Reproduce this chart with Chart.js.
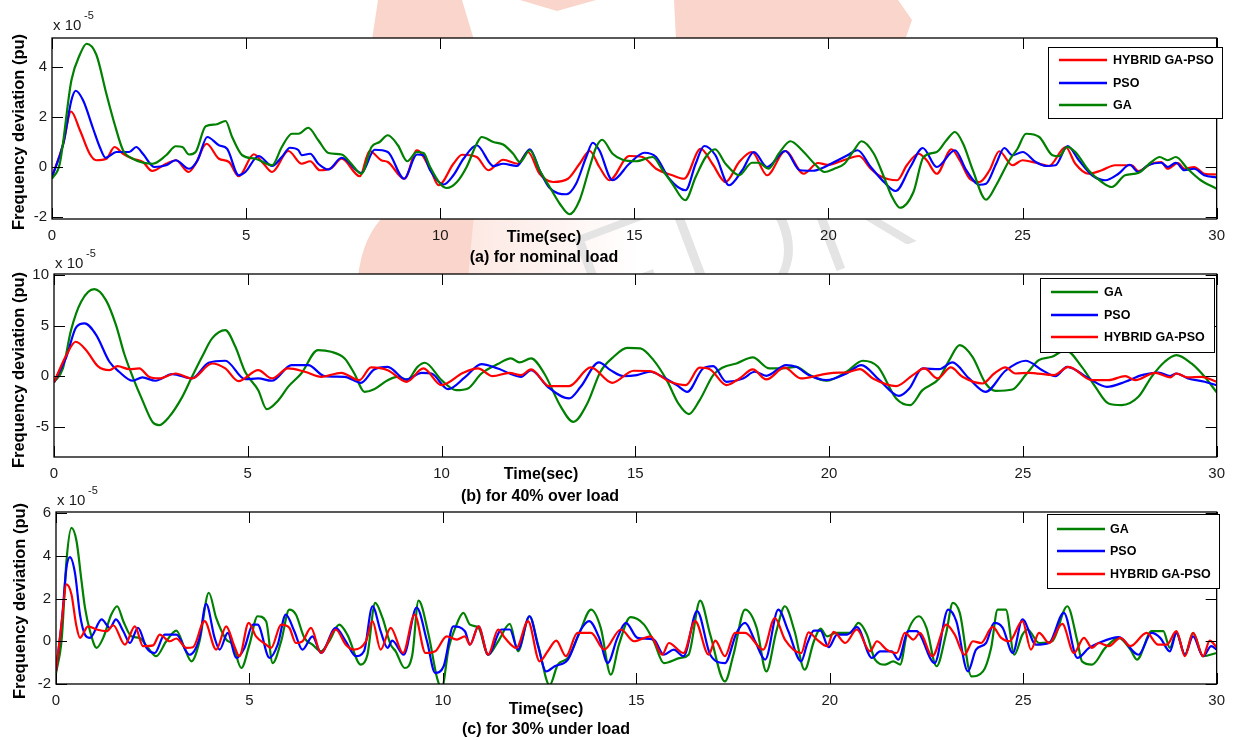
<!DOCTYPE html>
<html><head><meta charset="utf-8">
<script src="https://cdn.jsdelivr.net/npm/chart.js@4.4.1/dist/chart.umd.min.js"></script>
<style>
html,body{margin:0;padding:0;background:#fff;overflow:hidden}
#wrap{position:relative;width:1233px;height:740px}
#wrap canvas{position:absolute;left:0;top:0}
</style></head><body>
<div id="wrap">
<canvas id="bg" width="1233" height="740"></canvas>
<canvas id="c1" width="1233" height="740"></canvas>
<canvas id="c2" width="1233" height="740"></canvas>
<canvas id="c3" width="1233" height="740"></canvas>
</div>
<script>
// ---------- DATA (time in s, frequency deviation in units of 1e-5 pu) ----------
const xTicks = [0,5,10,15,20,25,30];
const yTicks1 = [-2,0,2,4];
const yTicks2 = [-5,0,5,10];
const yTicks3 = [-2,0,2,4,6];
const yRange1 = [-2.08,5.16];
const yRange2 = [-8,10.1];
const yRange3 = [-2,6.05];
const seriesNames1 = ['HYBRID GA-PSO','PSO','GA'];
const seriesNames2 = ['GA','PSO','HYBRID GA-PSO'];
const seriesNames3 = ['GA','PSO','HYBRID GA-PSO'];
const captions = ['(a) for nominal load','(b) for 40% over load','(c) for 30% under load'];
const xTitle = 'Time(sec)';
const yTitle = 'Frequency deviation (pu)';

// Panel (a) nominal load
const a_GA = [[0,-0.47],[0.2,0.13],[0.5,3.47],[0.72,4.5],[0.89,4.93],[1.14,4.5],[1.4,2.93],[1.61,1.73],[1.83,0.67],[2.08,0.33],[2.59,0.13],[2.94,0.47],[3.19,0.83],[3.36,0.8],[3.53,0.5],[3.7,0.6],[3.96,1.63],[4.22,1.7],[4.47,1.84],[4.64,1.2],[4.9,0.47],[5.24,0.33],[5.67,0.07],[5.92,0.8],[6.18,1.33],[6.35,1.33],[6.6,1.57],[6.86,1.07],[7.12,0.56],[7.46,0.5],[7.71,0.13],[7.97,-0.27],[8.23,0.8],[8.44,1.0],[8.65,1.27],[8.91,0.87],[9.15,0.23],[9.4,0.6],[9.57,0.56],[9.74,0],[10,-0.67],[10.17,-0.84],[10.43,-0.6],[10.68,0],[10.94,0.93],[11.07,1.2],[11.37,1.0],[11.62,0.9],[11.88,0.53],[12.05,0.2],[12.31,0.67],[12.56,-0.13],[12.82,-0.8],[13.08,-1.47],[13.33,-1.89],[13.59,-1.33],[13.85,0],[14.02,0.8],[14.17,1.09],[14.44,0.53],[14.7,0.29],[15.04,0.23],[15.47,0.4],[15.73,-0.13],[15.98,-0.67],[16.31,-1.33],[16.58,-0.4],[16.84,0.4],[17.08,0.71],[17.35,0.13],[17.7,-0.33],[18.03,0.17],[18.2,0.17],[18.46,-0.07],[18.72,0.53],[19.02,1.03],[19.32,0.67],[19.64,0.13],[19.9,-0.2],[20.15,-0.07],[20.41,0.13],[20.66,0.67],[20.85,1.03],[21.17,0.53],[21.43,-0.4],[21.64,-1.2],[21.84,-1.63],[22.19,-1.0],[22.45,0.4],[22.79,0.6],[23.04,1.07],[23.26,1.4],[23.47,0.93],[23.72,-0.13],[24.06,-1.31],[24.32,-0.73],[24.66,0.27],[24.87,0.73],[25.09,1.33],[25.43,1.2],[25.77,0.47],[25.94,0.43],[26.15,0.8],[26.36,0.6],[26.7,-0.13],[27.04,-0.6],[27.3,-0.8],[27.64,-0.33],[27.98,-0.24],[28.32,0.2],[28.53,0.4],[28.74,0.27],[28.95,0.4],[29.25,-0.07],[29.59,-0.53],[30,-0.87]];
const a_PSO = [[0,-0.4],[0.29,0.93],[0.5,2.67],[0.61,3.05],[0.8,2.67],[1.06,1.53],[1.23,0.8],[1.38,0.37],[1.66,0.6],[1.99,0.6],[2.17,0.8],[2.34,0.53],[2.64,0],[2.94,0.07],[3.19,0.27],[3.53,-0.07],[3.75,0.27],[4.0,1.2],[4.3,0.87],[4.51,0.73],[4.81,-0.33],[4.98,-0.2],[5.32,0.44],[5.67,0.04],[5.92,0.4],[6.13,0.77],[6.35,0.67],[6.43,0.47],[6.65,0.53],[6.86,0.13],[7.12,-0.1],[7.46,0.37],[7.97,-0.24],[8.31,0.69],[8.65,0.6],[9.07,-0.47],[9.4,0.5],[9.57,0.47],[9.74,-0.13],[10.09,-0.7],[10.34,-0.33],[10.6,0.33],[10.94,0.87],[11.37,0.04],[11.62,0.13],[11.97,0.04],[12.31,0.71],[12.56,-0.13],[12.82,-0.84],[13.25,-1.09],[13.5,-0.67],[13.76,0.4],[13.93,0.97],[14.1,0.67],[14.44,-0.53],[14.87,0.13],[15.26,0.57],[15.56,0.4],[15.9,-0.47],[16.32,-0.93],[16.58,0.13],[16.8,0.84],[17.09,0.47],[17.44,-0.73],[17.78,-0.13],[18.08,0.6],[18.42,0],[18.89,0.64],[19.27,-0.13],[19.6,-0.15],[19.9,0],[20.15,0.2],[20.49,0.47],[20.75,0.67],[21.09,0],[21.43,-0.6],[21.73,-0.96],[22.11,0],[22.43,0.76],[22.79,0],[23.26,0.67],[23.55,-0.13],[23.89,-0.71],[24.06,-0.67],[24.32,0.13],[24.53,0.76],[24.74,0.47],[25.0,0.6],[25.34,0.2],[25.6,0.04],[25.85,0.07],[26.16,0.84],[26.45,0.27],[26.79,-0.33],[27.13,-0.53],[27.47,-0.27],[27.76,0.09],[27.98,-0.2],[28.23,0.07],[28.57,0.17],[28.74,0],[28.95,0.17],[29.17,-0.13],[29.42,-0.07],[29.68,-0.33],[30,-0.42]];
const a_HY = [[0,-0.4],[0.29,0.93],[0.49,2.22],[0.72,1.47],[0.97,0.53],[1.14,0.27],[1.4,0.33],[1.61,0.8],[1.83,0.53],[2.08,0.33],[2.34,0.2],[2.58,-0.16],[2.94,0.13],[3.19,0.27],[3.52,-0.2],[3.7,0.13],[3.98,0.93],[4.3,0.33],[4.56,0.2],[4.81,-0.37],[5.2,0.51],[5.45,0.13],[5.67,-0.2],[6.09,0.64],[6.43,0.13],[6.65,0.23],[6.9,-0.13],[7.2,-0.04],[7.46,0.33],[7.93,-0.37],[8.18,0.64],[8.48,0.27],[8.65,0.2],[9.08,-0.47],[9.4,0.67],[9.74,-0.07],[9.96,-0.73],[10.34,0.13],[10.56,0.49],[10.94,0.4],[11.24,-0.13],[11.62,0.29],[12.0,0.13],[12.26,0.6],[12.56,-0.27],[12.91,-0.6],[13.29,-0.47],[13.59,0.13],[13.85,0.64],[14.1,0],[14.36,-0.53],[14.87,0.44],[15.21,0.4],[15.56,-0.07],[15.98,-0.33],[16.28,-0.47],[16.71,0.73],[17.01,0.13],[17.35,-0.6],[17.7,0.2],[18.03,0.6],[18.42,-0.33],[18.89,0.64],[19.36,-0.27],[19.73,0.16],[19.98,0.09],[20.32,0.23],[20.79,0.44],[21.09,-0.07],[21.34,-0.37],[21.77,-0.53],[22.02,0.07],[22.32,0.53],[22.53,0.27],[22.79,-0.27],[23.17,0.71],[23.38,0.27],[23.64,-0.47],[23.89,-0.6],[24.15,-0.13],[24.4,0.63],[24.74,0.07],[25.0,0.27],[25.34,0.17],[25.68,0.04],[26.11,0.8],[26.36,0.13],[26.7,-0.27],[27.04,-0.13],[27.38,0.07],[27.81,0.07],[27.98,-0.16],[28.32,0.13],[28.57,0.2],[28.74,-0.07],[29.0,0.16],[29.17,-0.07],[29.42,0],[29.68,-0.27],[30,-0.3]];

// Panel (b) 40% over load
const b_GA = [[0,-0.6],[0.23,0.76],[0.44,4.55],[0.7,7.36],[1.04,8.6],[1.34,7.52],[1.6,5.05],[1.81,2.24],[2.03,-0.07],[2.28,-2.38],[2.54,-4.52],[2.71,-4.85],[2.97,-4.03],[3.31,-2.05],[3.56,-0.07],[3.82,1.91],[4.08,3.73],[4.42,4.55],[4.68,2.9],[4.93,0.43],[5.27,-1.39],[5.49,-3.27],[5.79,-2.38],[6.04,-1.06],[6.38,0.26],[6.81,2.57],[7.15,2.41],[7.5,1.75],[7.75,0.26],[8.01,-1.55],[8.26,-1.29],[8.61,-0.4],[8.86,-0.07],[9.12,-0.35],[9.38,0.92],[9.57,1.32],[10,-0.4],[10.38,-1.39],[10.68,-1.22],[11.03,0.26],[11.45,1.19],[11.79,1.75],[12.01,1.35],[12.31,1.75],[12.65,0.26],[13.08,-3.04],[13.4,-4.52],[13.76,-2.71],[14.1,0.43],[14.44,1.91],[14.79,2.8],[15.13,2.74],[15.47,1.58],[15.81,-0.4],[16.11,-2.71],[16.38,-3.76],[16.66,-2.38],[17.01,0.1],[17.26,0.86],[17.61,1.25],[18.03,1.85],[18.46,0.76],[18.8,0.76],[19.15,0.92],[19.5,0.1],[19.93,-0.46],[20.45,0.43],[20.87,1.52],[21.26,0.92],[21.73,-2.21],[22.09,-2.87],[22.41,-1.39],[22.84,-0.23],[23.1,1.58],[23.37,3.07],[23.7,1.91],[24.04,-0.73],[24.3,-1.45],[24.73,-1.32],[25.07,0.1],[25.41,1.58],[25.75,1.91],[26.1,2.57],[26.52,0.92],[26.87,-1.06],[27.21,-2.71],[27.55,-2.87],[27.98,-2.05],[28.32,-0.07],[28.66,1.42],[28.96,2.08],[29.35,1.25],[29.69,-0.07],[30,-1.6]];
const b_PSO = [[0,-0.6],[0.32,1.91],[0.57,4.82],[0.79,5.21],[1.09,4.06],[1.43,1.42],[1.68,0.43],[2.03,-0.46],[2.28,-0.13],[2.62,-0.46],[3.05,0.2],[3.56,-0.23],[3.99,1.32],[4.42,1.52],[4.93,-0.3],[5.27,-0.23],[5.62,-0.46],[6.13,1.09],[6.56,1.09],[6.98,0],[7.5,-0.07],[7.92,-0.66],[8.26,0.66],[8.61,0.92],[9.08,-0.35],[9.49,0.33],[9.74,0.26],[10.17,-1.29],[10.6,-0.13],[11.03,1.19],[11.45,0.76],[12.05,-0.07],[12.31,0.59],[12.74,-1.06],[13.29,-2.21],[13.59,-1.06],[14.06,1.35],[14.36,0.59],[14.7,0],[15.04,0.1],[15.38,0.43],[15.73,-0.13],[16.07,-0.89],[16.34,-1.55],[16.75,0.76],[17.01,0.99],[17.35,-0.56],[17.78,-0.23],[18.08,0.43],[18.38,0.03],[18.89,1.09],[19.15,0.92],[19.5,0.05],[19.93,-0.4],[20.45,0.26],[20.83,1.09],[21.3,-0.4],[21.8,-1.95],[22.07,-1.22],[22.41,0.76],[22.84,0.69],[23.18,1.35],[23.61,-0.23],[24.04,-1.55],[24.55,0.53],[25.07,1.52],[25.5,0.59],[25.84,0],[26.14,0.92],[26.7,-0.23],[27.17,-1.06],[27.64,-0.56],[28.07,0.1],[28.5,0.36],[28.8,0],[28.96,0.26],[29.26,-0.23],[29.69,-0.56],[30,-0.9]];
const b_HY = [[0,-0.6],[0.32,2.08],[0.56,3.4],[0.83,2.57],[1.13,0.99],[1.43,0.59],[1.64,0.99],[1.94,0.69],[2.2,0.76],[2.45,-0.07],[2.71,-0.23],[3.14,0.26],[3.56,-0.23],[4.08,1.25],[4.42,0.76],[4.76,-0.5],[5.27,0.59],[5.62,-0.23],[6.04,0.76],[6.47,0.43],[6.9,-0.07],[7.41,0.33],[7.88,-0.4],[8.18,0.86],[8.61,0.59],[9.1,-0.56],[9.53,0.76],[10,-0.89],[10.56,0.33],[10.94,0.76],[11.32,0],[11.75,0.33],[12.05,0.1],[12.31,0.66],[12.78,-0.99],[13.29,-0.99],[13.85,0.86],[14.4,-0.66],[14.96,0.53],[15.38,0.5],[15.9,-0.56],[16.3,-0.89],[16.66,0.83],[16.92,0.69],[17.35,-0.89],[17.69,-0.23],[18.03,0.66],[18.38,-0.33],[18.85,0.83],[19.27,-0.23],[19.76,0.1],[20.1,0.33],[20.45,0.36],[20.79,0.69],[21.13,-0.23],[21.73,-0.99],[22.16,0.1],[22.46,0.76],[22.8,-0.23],[23.14,0.86],[23.44,-0.07],[23.96,-0.73],[24.26,0.26],[24.55,0.86],[24.81,0.26],[25.15,0.33],[25.8,0.1],[26.18,0.92],[26.78,-0.4],[27.21,-0.4],[27.64,0],[27.9,-0.4],[28.41,0.33],[28.8,-0.13],[28.96,0.26],[29.26,-0.13],[29.61,-0.07],[30,-0.56]];

// Panel (c) 30% under load
const c_GA = [[0,-1.5],[0.15,0.16],[0.27,3.75],[0.4,5.31],[0.53,4.69],[0.66,2.81],[0.75,1.56],[0.88,0.47],[1.05,-0.31],[1.22,0.16],[1.43,1.25],[1.58,1.64],[1.74,0.94],[1.95,0.23],[2.16,0.16],[2.38,-0.31],[2.59,-0.7],[2.85,0],[3.11,0.5],[3.32,-0.31],[3.5,-0.94],[3.71,0],[3.95,2.27],[4.14,1.09],[4.4,0.08],[4.57,-0.16],[4.79,-1.25],[5.0,-0.16],[5.21,1.17],[5.43,0.94],[5.6,-1.02],[5.82,0],[6.03,1.48],[6.2,1.25],[6.42,0.16],[6.63,-0.16],[6.85,-0.47],[7.06,0],[7.32,0.78],[7.53,0.31],[7.88,-1.09],[8.05,-0.63],[8.25,1.8],[8.44,1.09],[8.65,-0.16],[8.78,-0.47],[9.01,-1.25],[9.21,-0.63],[9.37,1.9],[9.63,0.31],[9.85,-1.72],[9.97,-2.2],[10.15,-0.31],[10.32,0.63],[10.53,1.33],[10.7,0.78],[10.92,0.63],[11.17,-0.63],[11.43,0],[11.73,0.81],[11.94,-0.47],[12.24,1.17],[12.46,-0.16],[12.76,-2.05],[12.97,-1.09],[13.23,-0.78],[13.53,0.39],[13.83,1.48],[14.08,0.63],[14.34,-1.56],[14.55,-0.16],[14.85,1.13],[15.2,0.78],[15.45,0],[15.71,-1.02],[16.14,-0.78],[16.35,-0.63],[16.65,1.9],[16.91,0.31],[17.29,-1.88],[17.51,-0.63],[17.81,1.48],[18.11,0.63],[18.36,-1.41],[18.62,0.47],[18.84,1.64],[19.09,0.47],[19.35,-1.33],[19.59,0],[19.76,0.59],[19.93,0.23],[20.15,0.39],[20.53,0.39],[20.74,0.86],[20.96,0.31],[21.17,-0.86],[21.43,-1.09],[21.64,-0.94],[21.82,-1.09],[21.99,0.31],[22.31,1.17],[22.5,0.63],[22.76,-1.17],[23.01,0.39],[23.18,1.8],[23.36,1.33],[23.66,-1.64],[23.96,-1.41],[24.17,-0.31],[24.34,1.48],[24.55,1.48],[24.77,-0.63],[24.98,0.31],[25.11,0.55],[25.41,-0.08],[25.75,0],[26.14,1.64],[26.4,0],[26.52,-0.94],[26.78,-1.09],[27.12,-0.31],[27.47,0.16],[27.77,-0.39],[27.94,-0.86],[28.32,0.47],[28.62,0.47],[28.79,-0.31],[28.96,0.39],[29.18,-0.63],[29.39,0.39],[29.65,-0.7],[30,-0.55]];
const c_PSO = [[0,-1.4],[0.15,0.94],[0.27,3.44],[0.36,3.94],[0.49,3.2],[0.62,1.25],[0.75,0.31],[0.88,0.16],[1.18,1.02],[1.39,0.63],[1.55,1.02],[1.74,0.47],[1.91,-0.08],[2.12,0.63],[2.34,-0.31],[2.55,-0.55],[2.81,0.31],[3.11,0.31],[3.45,-0.63],[3.71,0.16],[3.88,1.75],[4.1,0.16],[4.23,-0.39],[4.44,0.39],[4.66,-0.78],[4.87,-0.31],[5.09,0.78],[5.21,0.78],[5.52,-0.78],[5.73,-0.16],[5.94,1.25],[6.16,0.47],[6.37,-0.39],[6.63,0.23],[6.85,-0.55],[7.23,0.63],[7.49,0],[7.75,-0.7],[7.96,-0.47],[8.18,1.64],[8.39,0.47],[8.57,-0.31],[8.69,0.03],[8.99,-0.63],[9.32,1.58],[9.59,0],[9.8,-1.48],[10.02,-1.17],[10.27,0.7],[10.57,0.47],[10.7,-0.16],[10.92,0.7],[11.17,-0.63],[11.52,0.55],[11.73,0.55],[11.94,-0.39],[12.24,1.17],[12.46,-0.23],[12.67,-1.41],[12.89,-1.17],[13.23,-0.86],[13.57,0.55],[13.78,0.94],[14.04,0.16],[14.26,-1.02],[14.51,0.16],[14.73,0.86],[15.03,0.16],[15.45,0.08],[15.71,-0.63],[15.97,-0.39],[16.22,-0.7],[16.57,1.41],[16.91,-0.63],[17.29,-1.02],[17.59,0.39],[17.81,0.86],[18.07,0],[18.33,-0.86],[18.67,1.48],[18.93,0.47],[19.26,-0.94],[19.42,-0.1],[19.59,0.5],[19.76,0.5],[19.97,-0.28],[20.19,0.31],[20.45,0.31],[20.7,0.66],[21.09,-0.78],[21.3,-0.47],[21.6,-0.47],[21.77,-0.86],[22.03,0.47],[22.24,0.47],[22.71,-1.02],[23.06,1.48],[23.27,0.94],[23.57,-1.41],[23.78,-0.39],[24.04,-0.08],[24.25,0.86],[24.47,0.63],[24.73,-0.55],[24.98,1.02],[25.33,-0.16],[25.67,-0.08],[26.05,1.33],[26.4,-0.78],[26.7,-0.31],[26.95,-0.08],[27.47,0.19],[27.98,-0.63],[28.32,0.39],[28.54,0.16],[28.79,-0.47],[28.96,0.39],[29.18,-0.63],[29.39,0.23],[29.65,-0.7],[29.86,-0.23],[30,-0.39]];
const c_HY = [[0,-1.41],[0.15,0.94],[0.27,2.66],[0.4,2.19],[0.52,0.78],[0.62,0.16],[0.83,0.7],[1.05,0.55],[1.31,0.47],[1.48,0.75],[1.78,-0.16],[2.04,0.7],[2.25,-0.23],[2.51,-0.19],[2.68,0.31],[2.94,0],[3.11,0.13],[3.37,-0.31],[3.54,-0.28],[3.84,0.94],[4.14,-0.39],[4.4,0.7],[4.61,-0.23],[4.74,-0.7],[4.98,0.86],[5.17,0.23],[5.43,-0.16],[5.56,-0.31],[5.82,0.78],[6.03,0.63],[6.2,-0.08],[6.37,0],[6.59,0.63],[6.85,-0.55],[7.23,0.55],[7.49,-0.16],[7.71,-0.39],[8.01,0],[8.18,0.94],[8.39,-0.39],[8.65,0.63],[8.97,-0.55],[9.27,1.25],[9.55,-0.55],[9.8,-0.47],[10.1,0.23],[10.36,0.08],[10.57,0.23],[10.7,-0.16],[10.92,0.7],[11.17,-0.63],[11.43,0.55],[11.6,0.16],[11.9,-0.31],[12.2,0.94],[12.5,-0.94],[12.71,-0.47],[12.93,0.03],[13.18,-0.7],[13.48,0.39],[13.83,0.39],[14.17,-0.39],[14.6,0.55],[14.94,0],[15.37,0.23],[15.67,-0.63],[15.84,-0.08],[16.22,-0.55],[16.52,0.94],[16.87,-0.63],[17.04,0.03],[17.29,-0.7],[17.55,0.39],[17.81,0.39],[18.28,-0.39],[18.58,1.09],[18.84,0.08],[19.26,-0.55],[19.45,0.42],[19.67,0.08],[19.93,-0.23],[20.1,0.44],[20.4,-0.08],[20.7,0.55],[21.04,-0.47],[21.22,0],[21.47,-0.39],[21.73,-0.55],[21.94,0.39],[22.16,0.08],[22.33,0.39],[22.65,-0.7],[23.01,0.78],[23.23,0.31],[23.48,-0.63],[23.7,0],[23.91,-0.08],[24.21,0.67],[24.43,0.16],[24.64,0],[24.98,0.94],[25.2,-0.39],[25.41,0.39],[25.67,-0.08],[26.01,0.81],[26.31,-0.55],[26.57,0.16],[26.78,-0.31],[26.95,-0.08],[27.21,-0.23],[27.51,0.16],[27.77,-0.23],[28.19,0.39],[28.49,-0.16],[28.71,-0.16],[28.96,0.47],[29.18,-0.7],[29.39,0.39],[29.65,-0.7],[29.82,0.03],[30,-0.28]];

// ---------- STYLE / LAYOUT ----------
const FONT = '"Liberation Sans", Arial, Helvetica, sans-serif';
const COLORS = {'GA':'#008000','PSO':'#0000ff','HYBRID GA-PSO':'#ff0000'};
const TICKLEN = 11;
const LAYOUT = {
  c1:{L:52,R:1224,T:38,B:219, exp:[53,30], xl:[544,242], cap:[544,262], yl:[24,132],
      legend:{x:1048,y:47,w:174,h:71,l1:1059,l2:1107,tx:1113,rows:[60,83,105]}},
  c2:{L:54,R:1221,T:274,B:457, exp:[55,268], xl:[541,479], cap:[540,501], yl:[24,370],
      legend:{x:1040,y:278,w:174,h:74,l1:1051,l2:1098,tx:1104,rows:[292,315,337]}},
  c3:{L:56,R:1221,T:512,B:684, exp:[57,505], xl:[546,714], cap:[546,734], yl:[25,601],
      legend:{x:1047,y:514,w:172,h:74,l1:1057,l2:1105,tx:1110,rows:[529,551,574]}}
};

// ---------- WATERMARK (background decoration) ----------
(function(){
  const c = document.getElementById('bg').getContext('2d');
  c.fillStyle = '#fff'; c.fillRect(0,0,1233,740);
  c.fillStyle = 'rgb(250,213,203)';
  const poly = pts => { c.beginPath(); pts.forEach((p,i)=> i ? c.lineTo(p[0],p[1]) : c.moveTo(p[0],p[1])); c.closePath(); c.fill(); };
  poly([[378,0],[462,0],[474,40],[372,40]]);
  poly([[674,0],[898,0],[912,20],[905,40],[676,40]]);
  poly([[520,0],[596,0],[557,11]]);
  c.beginPath(); c.moveTo(386,214); c.lineTo(474,214); c.lineTo(468,278); c.lineTo(358,278);
  c.quadraticCurveTo(362,236,386,214); c.fill();
  const g = c.createLinearGradient(468,0,640,0);
  g.addColorStop(0,'rgba(250,213,203,0.55)'); g.addColorStop(1,'rgba(250,213,203,0)');
  c.fillStyle = g; c.fillRect(468,214,172,64);
  c.save(); c.fillStyle = 'rgb(228,228,228)'; c.translate(600,360); c.rotate(-0.36);
  c.font = '300 175px Lato, ' + FONT; c.fillText('EDR', 0, 0); c.restore();
})();

// ---------- CHARTS ----------
const framePlugin = {
  id: 'frame',
  beforeDraw(chart){
    const a = chart.chartArea, ctx = chart.ctx;
    ctx.save(); ctx.fillStyle = '#fff';
    ctx.fillRect(a.left, a.top, a.right - a.left, a.bottom - a.top); ctx.restore();
  },
  afterDraw(chart){
    const L = LAYOUT[chart.canvas.id], a = chart.chartArea, ctx = chart.ctx;
    const xs = chart.scales.x, ys = chart.scales.y;
    ctx.save();
    // inward ticks
    ctx.strokeStyle = '#000'; ctx.lineWidth = 1; ctx.beginPath();
    xs.ticks.forEach(t => { const p = Math.round(xs.getPixelForValue(t.value)) + 0.5;
      ctx.moveTo(p, a.bottom); ctx.lineTo(p, a.bottom - TICKLEN);
      ctx.moveTo(p, a.top); ctx.lineTo(p, a.top + TICKLEN); });
    ys.ticks.forEach(t => { const p = Math.round(ys.getPixelForValue(t.value)) + 0.5;
      ctx.moveTo(a.left, p); ctx.lineTo(a.left + TICKLEN, p);
      ctx.moveTo(a.right, p); ctx.lineTo(a.right - TICKLEN, p); });
    ctx.stroke();
    // box
    ctx.lineWidth = 1.3;
    ctx.strokeRect(a.left, a.top, a.right - a.left, a.bottom - a.top);
    // legend
    const lg = L.legend;
    ctx.fillStyle = '#fff'; ctx.fillRect(lg.x, lg.y, lg.w, lg.h);
    ctx.lineWidth = 1; ctx.strokeStyle = '#000';
    ctx.strokeRect(lg.x + 0.5, lg.y + 0.5, lg.w, lg.h);
    ctx.font = 'bold 12.5px ' + FONT; ctx.textAlign = 'left'; ctx.textBaseline = 'middle';
    chart.data.datasets.forEach((d, i) => {
      const y = lg.rows[i];
      ctx.strokeStyle = d.borderColor; ctx.lineWidth = 2.4;
      ctx.beginPath(); ctx.moveTo(lg.l1, y); ctx.lineTo(lg.l2, y); ctx.stroke();
      ctx.fillStyle = '#000'; ctx.fillText(d.label, lg.tx, y + 1);
    });
    // texts
    ctx.textBaseline = 'alphabetic'; ctx.fillStyle = '#1a1a1a';
    ctx.font = '15px ' + FONT; ctx.textAlign = 'left';
    ctx.fillText('x 10', L.exp[0], L.exp[1]);
    ctx.font = '11px ' + FONT; ctx.fillText('-5', L.exp[0] + 31, L.exp[1] - 11);
    ctx.fillStyle = '#000'; ctx.font = 'bold 16px ' + FONT; ctx.textAlign = 'center';
    ctx.fillText(xTitle, L.xl[0], L.xl[1]);
    ctx.fillText(chart.options.plugins.frame.caption, L.cap[0], L.cap[1]);
    ctx.translate(L.yl[0], L.yl[1]); ctx.rotate(-Math.PI / 2);
    ctx.font = 'bold 16.5px ' + FONT; ctx.fillText(yTitle, 0, 0);
    ctx.restore();
  }
};

function makeChart(id, names, seriesMap, yTicks, yRange, caption){
  const L = LAYOUT[id], YW = 40, XH = 30;
  const n = names.length;
  new Chart(document.getElementById(id), {
    type: 'line',
    data: { datasets: names.map((nm, i) => ({
      label: nm,
      data: seriesMap[nm].map(p => ({x: p[0], y: p[1]})),
      borderColor: COLORS[nm], borderWidth: 2.2, pointRadius: 0,
      cubicInterpolationMode: 'monotone', fill: false, order: n - 1 - i
    })) },
    options: {
      responsive: false, animation: false, devicePixelRatio: 1, events: [],
      layout: { padding: { left: L.L - YW, right: 1233 - L.R, top: L.T, bottom: 740 - L.B - XH } },
      plugins: { legend: {display: false}, tooltip: {enabled: false}, title: {display: false},
                 frame: { caption: caption } },
      scales: {
        x: { type: 'linear', min: 0, max: 30,
             afterFit: s => { s.height = XH; },
             afterBuildTicks: s => { s.ticks = xTicks.map(v => ({value: v})); },
             grid: { display: false, drawTicks: false }, border: { display: false },
             ticks: { padding: 8, autoSkip: false, maxRotation: 0, color: '#1a1a1a',
                      font: { family: FONT, size: 15 }, callback: v => String(v) } },
        y: { type: 'linear', min: yRange[0], max: yRange[1],
             afterFit: s => { s.width = YW; },
             afterBuildTicks: s => { s.ticks = yTicks.map(v => ({value: v})); },
             grid: { display: false, drawTicks: false }, border: { display: false },
             ticks: { padding: 5, color: '#1a1a1a', font: { family: FONT, size: 15 },
                      callback: v => String(v) } }
      }
    },
    plugins: [framePlugin]
  });
}

makeChart('c1', seriesNames1, {'GA': a_GA, 'PSO': a_PSO, 'HYBRID GA-PSO': a_HY}, yTicks1, yRange1, captions[0]);
makeChart('c2', seriesNames2, {'GA': b_GA, 'PSO': b_PSO, 'HYBRID GA-PSO': b_HY}, yTicks2, yRange2, captions[1]);
makeChart('c3', seriesNames3, {'GA': c_GA, 'PSO': c_PSO, 'HYBRID GA-PSO': c_HY}, yTicks3, yRange3, captions[2]);
</script>
</body></html>
